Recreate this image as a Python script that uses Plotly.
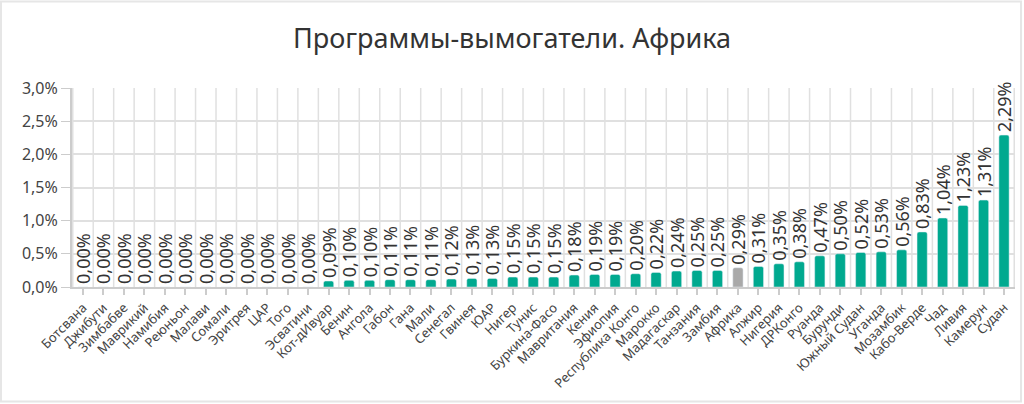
import plotly.graph_objects as go

countries = [
    "Ботсвана", "Джибути", "Зимбабве", "Маврикий", "Намибия", "Реюньон",
    "Малави", "Сомали", "Эритрея", "ЦАР", "Того", "Эсватини", "Кот-дИвуар",
    "Бенин", "Ангола", "Габон", "Гана", "Мали", "Сенегал", "Гвинея", "ЮАР",
    "Нигер", "Тунис", "Буркина-Фасо", "Мавритания", "Кения", "Эфиопия",
    "Республика Конго", "Марокко", "Мадагаскар", "Танзания", "Замбия",
    "Африка", "Алжир", "Нигерия", "ДРКонго", "Руанда", "Бурунди",
    "Южный Судан", "Уганда", "Мозамбик", "Кабо-Верде", "Чад", "Ливия",
    "Камерун", "Судан",
]
share = [
    0.00, 0.00, 0.00, 0.00, 0.00, 0.00,
    0.00, 0.00, 0.00, 0.00, 0.00, 0.00, 0.09,
    0.10, 0.10, 0.11, 0.11, 0.11, 0.12, 0.13, 0.13,
    0.15, 0.15, 0.15, 0.18, 0.19, 0.19,
    0.20, 0.22, 0.24, 0.25, 0.25,
    0.29, 0.31, 0.35, 0.38, 0.47, 0.50,
    0.52, 0.53, 0.56, 0.83, 1.04, 1.23,
    1.31, 2.29,
]
highlight = "Африка"

green = "#00a98f"
grey = "#a9a9a9"
colors = [grey if c == highlight else green for c in countries]

fig = go.Figure()
fig.add_trace(go.Bar(
    x=countries,
    y=share,
    marker=dict(color=colors, cornerradius=2),
    width=0.5,
    texttemplate="%{y:.2f}%",
    textposition="outside",
    textangle=-90,
    constraintext="none",
    cliponaxis=False,
    textfont=dict(size=18, color="#333333", family="Noto Sans"),
    hovertemplate="%{x}: %{y:.2f}%<extra></extra>",
))

# vertical grid lines sit between the categories
for i in range(len(countries) + 1):
    fig.add_shape(
        type="line", xref="x", yref="y",
        x0=i - 0.5, x1=i - 0.5, y0=0, y1=3,
        line=dict(color="#e0e0e0", width=1.5),
        layer="below",
    )

# thin frame around the whole picture
fig.add_shape(
    type="rect", xref="paper", yref="paper",
    x0=-0.0753, x1=1.0064, y0=-0.575, y1=1.435,
    line=dict(color="#e6e6e6", width=2),
)

fig.update_layout(
    width=1024,
    height=404,
    separators=", ",
    title=dict(
        text="Программы-вымогатели. Африка",
        x=0.5, xanchor="center", y=0.905, yanchor="middle",
        font=dict(size=27, color="#333333", family="Noto Sans"),
    ),
    font=dict(family="Noto Sans", color="#444444"),
    plot_bgcolor="white",
    paper_bgcolor="white",
    margin=dict(l=72, r=9, t=88, b=117),
    showlegend=False,
    xaxis=dict(
        tickangle=-45,
        tickfont=dict(size=13, color="#444444"),
        showgrid=False,
        showline=True,
        linecolor="#cccccc",
        linewidth=2,
        ticks="outside",
        ticklen=6,
        tickcolor="#cccccc",
        tickwidth=1.5,
    ),
    yaxis=dict(
        range=[0, 3],
        dtick=0.5,
        tickformat=".1f",
        ticksuffix="%",
        tickfont=dict(size=16, color="#444444"),
        showgrid=True,
        gridcolor="#e0e0e0",
        gridwidth=1.5,
        zeroline=False,
        showline=True,
        linecolor="#cccccc",
        linewidth=2,
        ticks="outside",
        ticklen=9,
        tickcolor="#cccccc",
    ),
)

# drop the default page margin so the figure sits at the window corner
fig.write_html(
    "out.html",
    config={"displayModeBar": False},
    post_script="document.body.style.margin='0';",
)
